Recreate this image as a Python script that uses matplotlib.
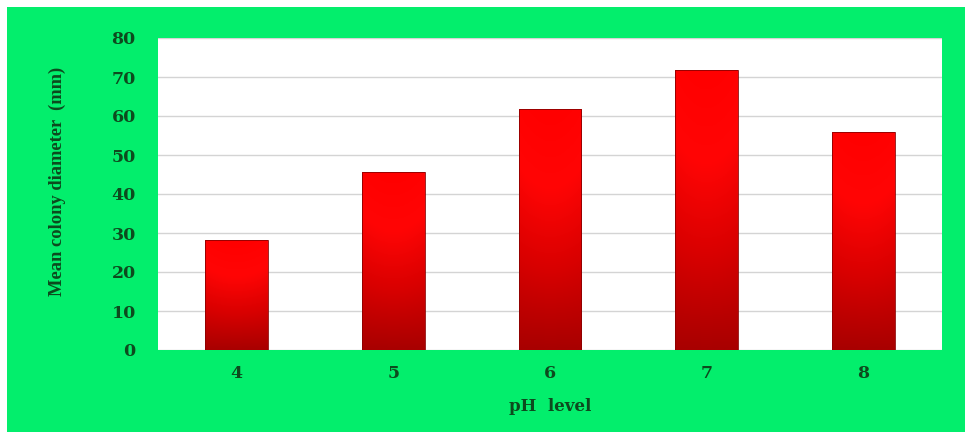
import numpy as np
import matplotlib.pyplot as plt
from matplotlib.colors import LinearSegmentedColormap
from matplotlib.patches import Rectangle

# Colony growth per pH level
PH_LEVELS = ["4", "5", "6", "7", "8"]
MEAN_DIAMETER = [28.2, 45.7, 61.8, 71.7, 56.0]

Y_TICKS = [0, 10, 20, 30, 40, 50, 60, 70, 80]

BG_GREEN = "#03ee6c"
TEXT_GREEN = "#0d4a1e"
WIDE_FONT = "DejaVu Serif"
FONT = "Liberation Serif"

fig = plt.figure(figsize=(9.65, 4.32), dpi=100)
fig.patch.set_facecolor("white")
fig.patches.append(
    Rectangle((7 / 965, 0), 1 - 7 / 965, 1 - 7 / 432,
              transform=fig.transFigure, facecolor=BG_GREEN,
              edgecolor="none", zorder=-10)
)

ax = fig.add_axes([158 / 965, 82 / 432, 784 / 965, 312 / 432])
ax.set_facecolor("white")

x_pos = np.arange(len(PH_LEVELS))
bars = ax.bar(x_pos, MEAN_DIAMETER, width=0.40, color="none",
              edgecolor="#8a0000", linewidth=0.6, zorder=3)

# red gradient: bright on top, dark at the base, slight shading at the sides
red_cmap = LinearSegmentedColormap.from_list(
    "bar_red", ["#a80000", "#d80000", "#ff0505", "#ff0000"])
ys = np.linspace(0, 1, 256)[:, None]
xs = np.linspace(-1, 1, 64)[None, :]
grad = ys * (1 - 0.12 * xs ** 2)
for bar in bars:
    x0, y0 = bar.get_x(), bar.get_y()
    w, h = bar.get_width(), bar.get_height()
    img = ax.imshow(grad, cmap=red_cmap, vmin=0, vmax=1, origin="lower",
                    extent=[x0, x0 + w, y0, y0 + h], aspect="auto", zorder=2)
    img.set_clip_path(bar)

ax.set_xlim(-0.5, len(PH_LEVELS) - 0.5)
ax.set_ylim(0, 80)
ax.set_yticks(Y_TICKS)
ax.set_xticks(x_pos, PH_LEVELS)
ax.yaxis.grid(True, color="#d4d4d4", linewidth=1.0, zorder=0)
ax.set_axisbelow(True)
for side in ax.spines.values():
    side.set_visible(False)
ax.tick_params(axis="both", length=0, labelsize=12.5, labelcolor=TEXT_GREEN)
ax.tick_params(axis="y", pad=16)
ax.tick_params(axis="x", pad=11)
for lbl in ax.get_xticklabels() + ax.get_yticklabels():
    lbl.set_fontfamily(WIDE_FONT)
    lbl.set_fontweight("bold")

ax.set_xlabel("pH  level", fontsize=12, fontfamily=WIDE_FONT, fontweight="bold",
              color=TEXT_GREEN, labelpad=11)
ax.set_ylabel("Mean colony diameter  (mm)", fontsize=13.3, fontfamily=FONT,
              fontweight="bold", color=TEXT_GREEN)
ax.yaxis.set_label_coords(-0.117, 0.542)

fig.savefig("out.png", dpi=100)
